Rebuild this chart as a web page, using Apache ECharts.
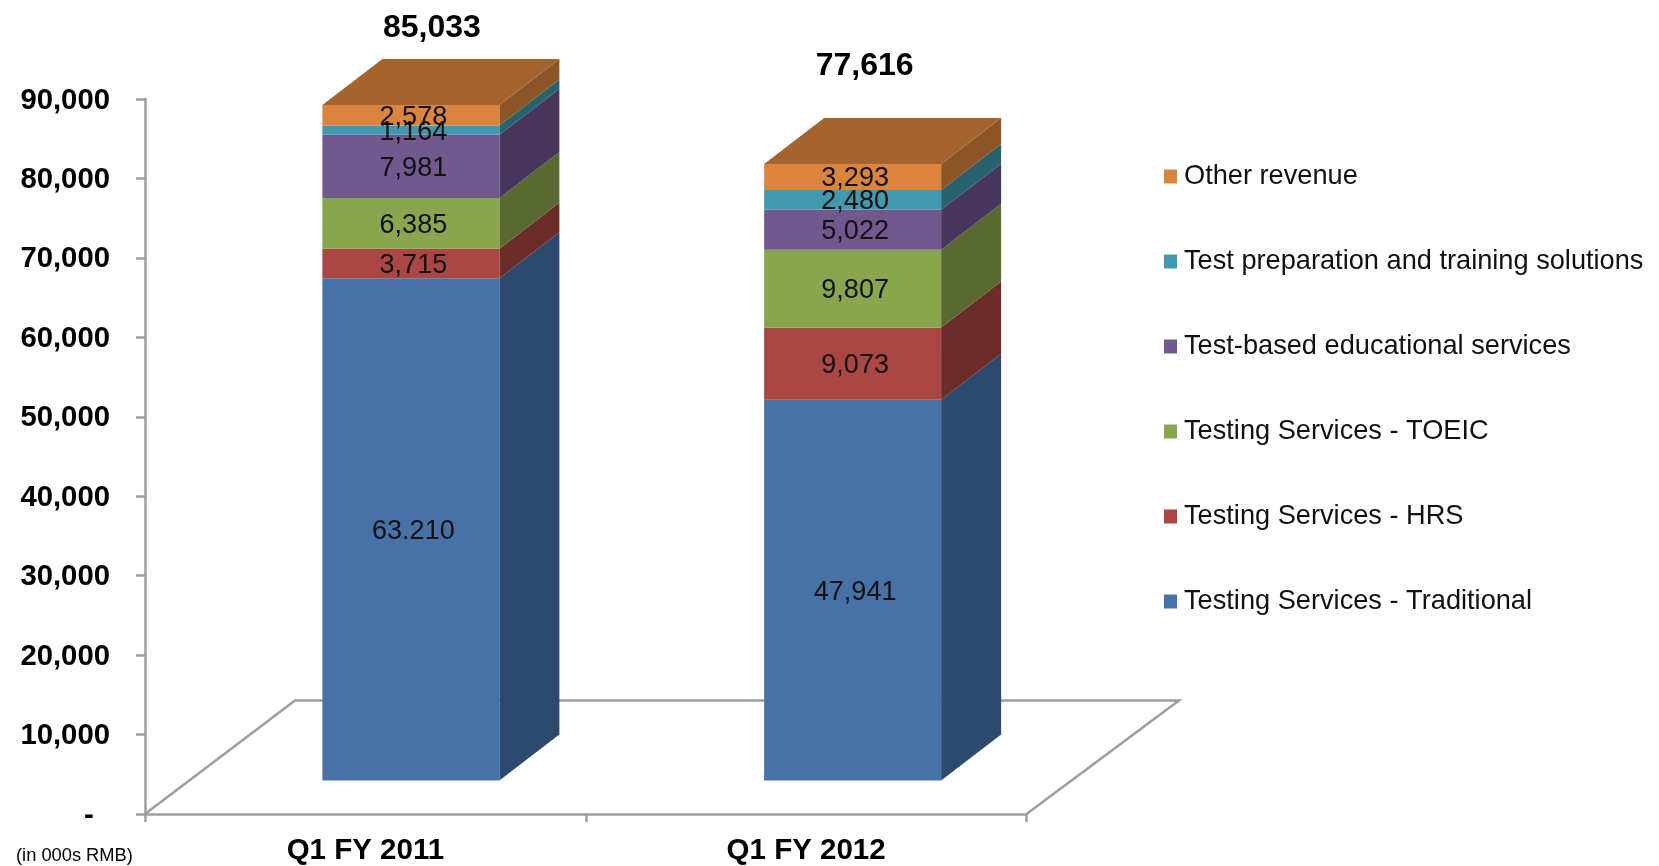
<!DOCTYPE html>
<html>
<head>
<meta charset="utf-8">
<style>
  html, body { margin: 0; padding: 0; background: #fff; }
  #main { width: 1659px; height: 866px; }
</style>
<script src="https://cdn.jsdelivr.net/npm/echarts@6/dist/echarts.min.js"></script>
</head>
<body>
<div id="main"></div>
<script>
var categories = ['Q1 FY 2011', 'Q1 FY 2012']
var seriesNames = [
  'Testing Services - Traditional',
  'Testing Services - HRS',
  'Testing Services - TOEIC',
  'Test-based educational services',
  'Test preparation and training solutions',
  'Other revenue'
]
var traditional = [63210, 47941]
var hrs = [3715, 9073]
var toeic = [6385, 9807]
var testBased = [7981, 5022]
var testPrep = [1164, 2480]
var other = [2578, 3293]
var totals = [85033, 77616]
// the source slide really prints 63.210 with a dot
var traditionalLabels = ['63.210', '47,941']

var stacks = [traditional, hrs, toeic, testBased, testPrep, other]
var frontColors = ['#4672A8', '#AA4643', '#89A54E', '#71588F', '#4198AF', '#DB843D']
var sideColors = ['#2C4A6E', '#6B2C2A', '#59692F', '#48365C', '#28626F', '#8C5528']
var topColor = '#A5642E'
var axisColor = '#9E9E9E'
var FONT = '"Liberation Sans", Arial, sans-serif'

// fake 3d projection, all in px
var barWidth = 177
var barShift = [45.5, 46.5]   // front face centre vs category centre
var floorLift = 33.5          // front face sits above the axis line
var depthX = 60
var depthY = -46
var floorX = 150
var floorY = -113.5
var totalLift = [31, 52]
var totalShift = [6, -3]

function fmt(v) {
  return v.toString().replace(/\B(?=(\d{3})+$)/g, ',')
}

function makeBarItem(k) {
  return function (params, api) {
    var idx = api.value(0)
    var low = api.coord([idx, api.value(1)])
    var high = api.coord([idx, api.value(2)])
    var x0 = low[0] + barShift[idx] - barWidth / 2
    var x1 = x0 + barWidth
    var y0 = low[1] - floorLift
    var y1 = high[1] - floorLift
    var children = [
      {
        type: 'polygon',
        shape: { points: [[x1, y0], [x1 + depthX, y0 + depthY], [x1 + depthX, y1 + depthY], [x1, y1]] },
        style: { fill: sideColors[k] }
      },
      {
        type: 'rect',
        shape: { x: x0, y: y1, width: barWidth, height: y0 - y1 },
        style: { fill: frontColors[k] }
      }
    ]
    if (k === stacks.length - 1) {
      children.push({
        type: 'polygon',
        shape: { points: [[x0, y1], [x1, y1], [x1 + depthX, y1 + depthY], [x0 + depthX, y1 + depthY]] },
        style: { fill: topColor }
      })
    }
    var label = k === 0 ? traditionalLabels[idx] : fmt(stacks[k][idx])
    children.push({
      type: 'text',
      z2: 20,
      style: {
        x: (x0 + x1) / 2 + 2.5,
        y: (y0 + y1) / 2 + 2,
        text: label,
        fill: '#111',
        font: '27px ' + FONT,
        align: 'center',
        verticalAlign: 'middle'
      }
    })
    return { type: 'group', children: children }
  }
}

var series = []

// floor outline
series.push({
  type: 'custom',
  name: 'floor',
  silent: true,
  z: 1,
  data: [[0]],
  renderItem: function (params, api) {
    var g = params.coordSys
    var yb = g.y + g.height
    return {
      type: 'polyline',
      shape: { points: [[g.x, yb], [g.x + floorX, yb + floorY], [g.x + g.width + floorX + 2.5, yb + floorY], [g.x + g.width, yb]] },
      style: { stroke: axisColor, lineWidth: 2.5, fill: null }
    }
  }
})

stacks.forEach(function (values, k) {
  series.push({
    type: 'custom',
    name: seriesNames[k],
    silent: true,
    z: 2,
    itemStyle: { color: frontColors[k] },
    data: values.map(function (v, i) {
      var base = 0
      for (var j = 0; j < k; j++) base += stacks[j][i]
      return [i, base, base + v]
    }),
    renderItem: makeBarItem(k)
  })
})

// totals above the bars
series.push({
  type: 'custom',
  name: 'total',
  silent: true,
  z: 3,
  data: totals.map(function (v, i) { return [i, v] }),
  renderItem: function (params, api) {
    var idx = api.value(0)
    var p = api.coord([idx, api.value(1)])
    return {
      type: 'text',
      style: {
        x: p[0] + barShift[idx] + totalShift[idx] + depthX / 2 - 15,
        y: p[1] - floorLift + depthY - totalLift[idx],
        text: fmt(api.value(1)),
        fill: '#000',
        font: 'bold 32px ' + FONT,
        align: 'center',
        verticalAlign: 'middle'
      }
    }
  }
})

var option = {
  animation: false,
  backgroundColor: '#fff',
  grid: { left: 145, right: 632.5, top: 99, bottom: 51.5, containLabel: false },
  legend: {
    orient: 'vertical',
    left: 1159,
    top: 158,
    itemWidth: 13,
    itemHeight: 14,
    itemGap: 58,
    icon: 'rect',
    selectedMode: false,
    data: seriesNames.slice().reverse(),
    textStyle: { color: '#111', fontFamily: FONT, fontSize: 27.2, padding: [0, 0, 0, 2] }
  },
  xAxis: {
    type: 'category',
    data: categories,
    axisLine: { lineStyle: { color: axisColor, width: 2.5 } },
    axisTick: { show: true, length: 8, alignWithLabel: false, lineStyle: { color: axisColor, width: 2.5 } },
    axisLabel: { color: '#000', fontFamily: FONT, fontWeight: 'bold', fontSize: 29.5, margin: 22 }
  },
  yAxis: {
    type: 'value',
    min: 0,
    max: 90000,
    interval: 10000,
    splitLine: { show: false },
    axisLine: { show: true, lineStyle: { color: axisColor, width: 2.5 } },
    axisTick: { show: true, length: 9, lineStyle: { color: axisColor, width: 2.5 } },
    axisLabel: {
      color: '#000',
      fontFamily: FONT,
      fontWeight: 'bold',
      fontSize: 29.3,
      margin: 35,
      verticalAlign: 'top',
      lineHeight: 3,
      formatter: function (v) { return v === 0 ? '-  ' : fmt(v) }
    }
  },
  graphic: [{
    type: 'text',
    left: 16,
    top: 847,
    style: { text: '(in 000s RMB)', fill: '#000', font: '18.3px ' + FONT }
  }],
  series: series
}

var mychart = echarts.init(document.getElementById('main'))
mychart.setOption(option)
</script>
</body>
</html>
